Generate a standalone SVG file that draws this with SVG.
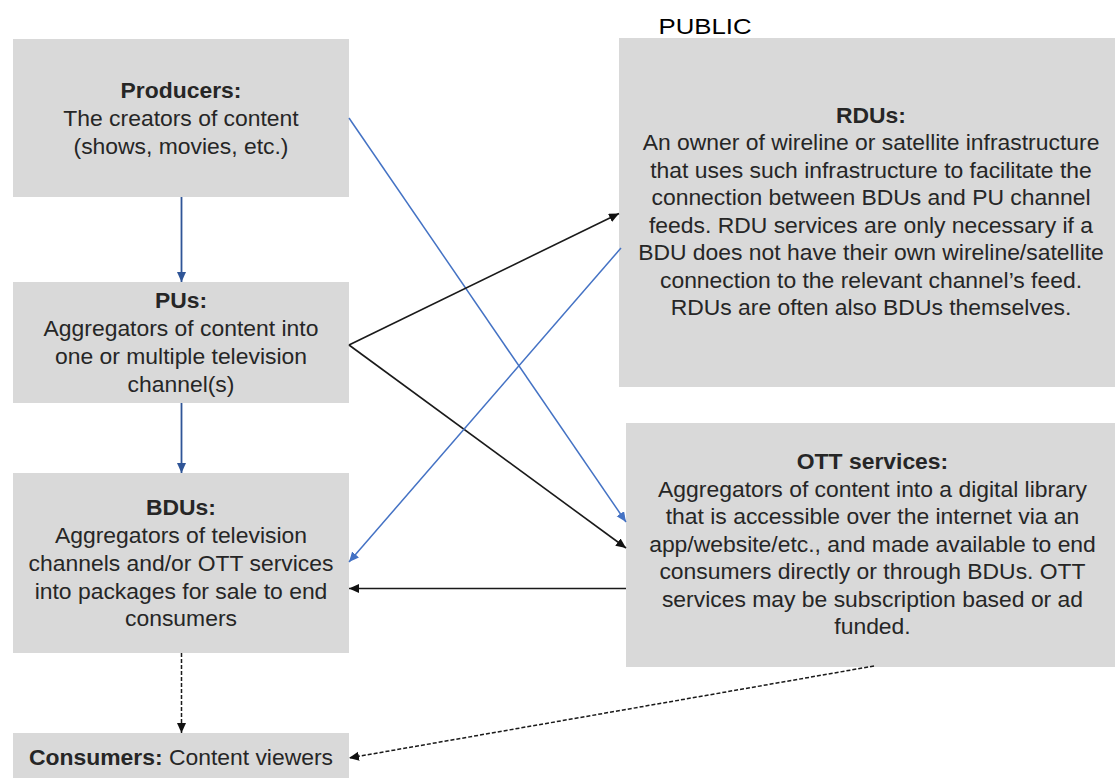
<svg xmlns="http://www.w3.org/2000/svg" width="1115" height="778" viewBox="0 0 1115 778">
  <style>
    .box { fill: #d9d9d9; }
    .t { font-family: "Liberation Sans", Arial, sans-serif; font-size: 22.9px; fill: #262626; text-anchor: middle; }
    .b { font-weight: bold; }
    .blue { stroke: #4472c4; stroke-width: 1.5; fill: none; }
    .navy { stroke: #2f5597; stroke-width: 1.8; fill: none; }
    .dark { stroke: #1a1a1a; stroke-width: 1.6; fill: none; }
    .dash { stroke: #1a1a1a; stroke-width: 1.5; fill: none; stroke-dasharray: 4 2; }
  </style>
  <defs>
    <marker id="ahBlue" markerUnits="userSpaceOnUse" markerWidth="12" markerHeight="10" refX="10" refY="4.5" orient="auto">
      <path d="M0,0 L10,4.5 L0,9 Z" fill="#4472c4"/>
    </marker>
    <marker id="ahNavy" markerUnits="userSpaceOnUse" markerWidth="12" markerHeight="10" refX="10" refY="4.5" orient="auto">
      <path d="M0,0 L10,4.5 L0,9 Z" fill="#2f5597"/>
    </marker>
    <marker id="ahDark" markerUnits="userSpaceOnUse" markerWidth="12" markerHeight="10" refX="10" refY="4.5" orient="auto">
      <path d="M0,0 L10,4.5 L0,9 Z" fill="#111111"/>
    </marker>
  </defs>

  <rect width="1115" height="778" fill="#ffffff"/>

  <text x="705" y="33.5" font-family="Liberation Sans, Arial, sans-serif" font-size="21.5" fill="#000000" text-anchor="middle" textLength="93" lengthAdjust="spacingAndGlyphs">PUBLIC</text>

  <g id="producers">
    <rect class="box" x="13" y="39" width="336" height="158"/>
    <text class="t b" x="181" y="98">Producers:</text>
    <text class="t" x="181" y="126">The creators of content</text>
    <text class="t" x="181" y="153.5">(shows, movies, etc.)</text>
  </g>

  <g id="pus">
    <rect class="box" x="13" y="282" width="336" height="121"/>
    <text class="t b" x="181" y="308">PUs:</text>
    <text class="t" x="181" y="336">Aggregators of content into</text>
    <text class="t" x="181" y="364">one or multiple television</text>
    <text class="t" x="181" y="391.5">channel(s)</text>
  </g>

  <g id="bdus">
    <rect class="box" x="13" y="473" width="336" height="180"/>
    <text class="t b" x="181" y="515">BDUs:</text>
    <text class="t" x="181" y="543">Aggregators of television</text>
    <text class="t" x="181" y="570.7">channels and/or OTT services</text>
    <text class="t" x="181" y="598.5">into packages for sale to end</text>
    <text class="t" x="181" y="625.5">consumers</text>
  </g>

  <g id="consumers">
    <rect class="box" x="13" y="733" width="336" height="50"/>
    <text class="t" x="181" y="765"><tspan class="b">Consumers:</tspan> Content viewers</text>
  </g>

  <g id="rdus">
    <rect class="box" x="619" y="38" width="504" height="349"/>
    <text class="t b" x="871" y="122.7">RDUs:</text>
    <text class="t" x="871" y="150">An owner of wireline or satellite infrastructure</text>
    <text class="t" x="871" y="177.7">that uses such infrastructure to facilitate the</text>
    <text class="t" x="871" y="205.3">connection between BDUs and PU channel</text>
    <text class="t" x="871" y="232.7">feeds. RDU services are only necessary if a</text>
    <text class="t" x="871" y="260">BDU does not have their own wireline/satellite</text>
    <text class="t" x="871" y="287.7">connection to the relevant channel’s feed.</text>
    <text class="t" x="871" y="315">RDUs are often also BDUs themselves.</text>
  </g>

  <g id="ott">
    <rect class="box" x="626" y="423" width="494" height="244"/>
    <text class="t b" x="872.5" y="469">OTT services:</text>
    <text class="t" x="872.5" y="496.7">Aggregators of content into a digital library</text>
    <text class="t" x="872.5" y="524.3">that is accessible over the internet via an</text>
    <text class="t" x="872.5" y="552">app/website/etc., and made available to end</text>
    <text class="t" x="872.5" y="579.3">consumers directly or through BDUs. OTT</text>
    <text class="t" x="872.5" y="606.7">services may be subscription based or ad</text>
    <text class="t" x="872.5" y="634">funded.</text>
  </g>

  <g id="connectors">
    <!-- vertical chain on the left -->
    <line class="navy" x1="181.5" y1="197" x2="181.5" y2="282" marker-end="url(#ahNavy)"/>
    <line class="navy" x1="181.5" y1="403" x2="181.5" y2="473" marker-end="url(#ahNavy)"/>
    <line class="dash" x1="181.5" y1="653" x2="181.5" y2="733" marker-end="url(#ahDark)"/>
    <!-- producers to OTT -->
    <line class="blue" x1="349" y1="118" x2="626" y2="522" marker-end="url(#ahBlue)"/>
    <!-- PUs to RDUs and OTT -->
    <line class="dark" x1="349" y1="345" x2="619" y2="213.5" marker-end="url(#ahDark)"/>
    <line class="dark" x1="349" y1="345" x2="626" y2="548" marker-end="url(#ahDark)"/>
    <!-- RDUs to BDUs -->
    <line class="blue" x1="621" y1="248" x2="349" y2="562" marker-end="url(#ahBlue)"/>
    <!-- OTT to BDUs -->
    <line class="dark" x1="626" y1="588.5" x2="349" y2="588.5" marker-end="url(#ahDark)"/>
    <!-- OTT to consumers -->
    <line class="dash" x1="874" y1="666" x2="349" y2="758" marker-end="url(#ahDark)"/>
  </g>
</svg>
